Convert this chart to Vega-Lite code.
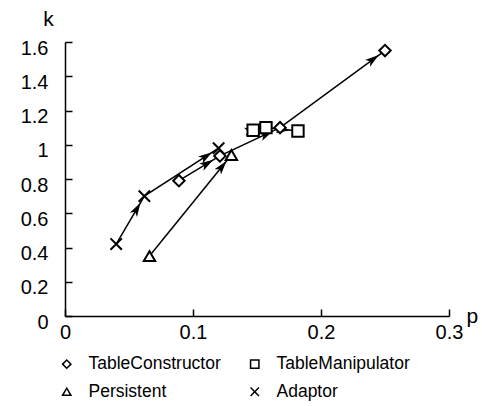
{
  "$schema": "https://vega.github.io/schema/vega-lite/v6.json",
  "width": 384,
  "height": 274,
  "autosize": "none",
  "padding": {"left": 65, "top": 42, "right": 33, "bottom": 90},
  "background": "white",
  "config": {
    "view": {"stroke": null},
    "font": "Liberation Sans",
    "axis": {
      "grid": false,
      "domainColor": "black",
      "domainWidth": 1.5,
      "tickColor": "black",
      "tickWidth": 1.5,
      "tickSize": -7,
      "labelColor": "black",
      "labelFont": "Liberation Sans",
      "labelFontSize": 20,
      "labelFlush": false,
      "titleColor": "black",
      "titleFont": "Liberation Sans",
      "titleFontSize": 21,
      "titleFontWeight": "normal"
    },
    "legend": {
      "labelFont": "Liberation Sans",
      "labelFontSize": 17.5,
      "labelColor": "black"
    }
  },
  "data": {
    "values": [
      {"series": "Adaptor", "order": 1, "p": 0.040, "k": 0.42},
      {"series": "Adaptor", "order": 2, "p": 0.062, "k": 0.70},
      {"series": "Adaptor", "order": 3, "p": 0.120, "k": 0.98},
      {"series": "Persistent", "order": 1, "p": 0.066, "k": 0.35},
      {"series": "Persistent", "order": 2, "p": 0.130, "k": 0.94},
      {"series": "TableConstructor", "order": 1, "p": 0.089, "k": 0.79},
      {"series": "TableConstructor", "order": 2, "p": 0.121, "k": 0.935},
      {"series": "TableConstructor", "order": 3, "p": 0.168, "k": 1.10},
      {"series": "TableConstructor", "order": 4, "p": 0.250, "k": 1.55},
      {"series": "TableManipulator", "order": 1, "p": 0.147, "k": 1.085},
      {"series": "TableManipulator", "order": 2, "p": 0.157, "k": 1.10},
      {"series": "TableManipulator", "order": 3, "p": 0.182, "k": 1.08}
    ]
  },
  "encoding": {
    "x": {
      "field": "p",
      "type": "quantitative",
      "scale": {"domain": [0, 0.3], "nice": false},
      "axis": {
        "values": [0, 0.1, 0.2, 0.3],
        "format": "~g",
        "labelPadding": 13,
        "title": "p",
        "titleX": 401,
        "titleY": 6,
        "titleAlign": "left",
        "titleBaseline": "alphabetic"
      }
    },
    "y": {
      "field": "k",
      "type": "quantitative",
      "scale": {"domain": [0, 1.6], "nice": false},
      "axis": {
        "values": [0, 0.2, 0.4, 0.6, 0.8, 1, 1.2, 1.4, 1.6],
        "format": "~g",
        "labelPadding": 24,
        "labelOffset": 6,
        "title": "k",
        "titleAngle": 0,
        "titleX": -17,
        "titleY": -17,
        "titleAlign": "center",
        "titleBaseline": "alphabetic"
      }
    }
  },
  "layer": [
    {
      "mark": {"type": "line", "color": "black", "strokeWidth": 1.5},
      "encoding": {
        "detail": {"field": "series", "type": "nominal"},
        "order": {"field": "order", "type": "quantitative"}
      }
    },
    {
      "transform": [
        {
          "window": [
            {"op": "lag", "field": "p", "as": "pp"},
            {"op": "lag", "field": "k", "as": "pk"}
          ],
          "groupby": ["series"],
          "sort": [{"field": "order", "order": "ascending"}]
        },
        {"filter": "datum.order > 1"},
        {"calculate": "atan2((datum.p - datum.pp) * 1280, (datum.k - datum.pk) * 171.25) * 180 / PI", "as": "ang"}
      ],
      "mark": {
        "type": "point",
        "shape": "M0,1.1L-0.6,3.1L0,2.6L0.6,3.1Z",
        "filled": true,
        "color": "black",
        "opacity": 1,
        "size": 196
      },
      "encoding": {
        "angle": {"field": "ang", "type": "quantitative", "scale": null}
      }
    },
    {
      "mark": {
        "type": "point",
        "filled": true,
        "fill": "white",
        "stroke": "black",
        "strokeWidth": 2,
        "opacity": 1,
        "size": 130
      },
      "encoding": {
        "shape": {
          "field": "series",
          "type": "nominal",
          "scale": {
            "domain": ["TableConstructor", "Persistent", "TableManipulator", "Adaptor"],
            "range": ["diamond", "triangle-up", "square", "M-1,-1L1,1M-1,1L1,-1"]
          },
          "legend": {
            "title": null,
            "orient": "none",
            "legendX": -7,
            "legendY": 313,
            "columns": 2,
            "columnPadding": 25,
            "rowPadding": 9,
            "symbolSize": 70,
            "labelOffset": 13,
            "encode": {
              "symbols": {
                "update": {
                  "stroke": [
                    {"test": "datum.value === 'Adaptor'", "value": "black"},
                    {"value": "white"}
                  ],
                  "strokeWidth": {"value": 2},
                  "fill": {"value": "white"}
                }
              }
            }
          }
        }
      }
    }
  ]
}
